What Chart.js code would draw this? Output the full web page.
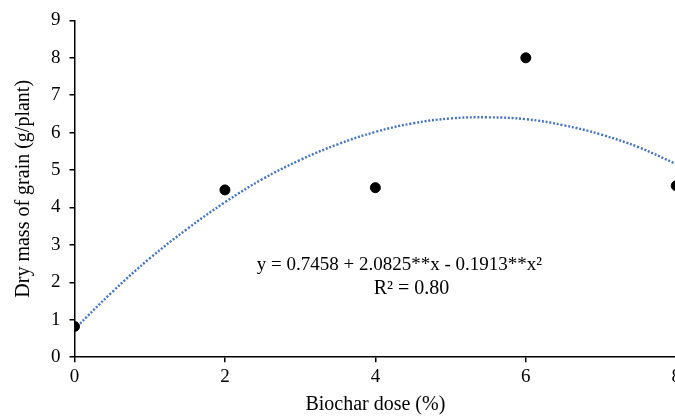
<!DOCTYPE html>
<html>
<head>
<meta charset="utf-8">
<script src="https://cdn.jsdelivr.net/npm/chart.js@4.4.1/dist/chart.umd.min.js"></script>
<style>
  html, body { margin: 0; padding: 0; background: #fff; overflow: hidden; }
  #wrap { width: 684px; height: 419px; }
</style>
</head>
<body>
<div id="wrap"><canvas id="chart"></canvas></div>
<script>
// observed points
const doses = [0, 2, 4, 6, 8];
const grainMass = [0.82, 4.47, 4.53, 8.0, 4.58];

// trend line
const trendX = [0, 0.5, 1, 1.5, 2, 2.5, 3, 3.5, 4, 4.5, 5, 5.5, 6, 6.5, 7, 7.5, 8];
const trendY = [0.75, 1.74, 2.64, 3.43, 4.14, 4.76, 5.27, 5.69, 6.02, 6.25, 6.38, 6.41, 6.36, 6.20, 5.95, 5.61, 5.16];

const xTicks = [0, 2, 4, 6, 8];
const yTicks = [0, 1, 2, 3, 4, 5, 6, 7, 8, 9];

const eqLines = ['y = 0.7458 + 2.0825**x - 0.1913**x\u00B2', 'R\u00B2 = 0.80'];

const FONT = "'Liberation Serif', 'Times New Roman', serif";

// equation text inside the plot
const eqPlugin = {
    id: 'eqText',
    afterDatasetsDraw: (chart) => {
        const ctx = chart.ctx;
        const x = chart.scales.x.getPixelForValue(4.32);
        const y = chart.scales.y.getPixelForValue(2.45);
        ctx.save();
        ctx.fillStyle = '#000';
        ctx.font = '19px ' + FONT;
        ctx.textAlign = 'center';
        ctx.textBaseline = 'middle';
        ctx.fillText(eqLines[0], x, y);
        ctx.font = '20px ' + FONT;
        ctx.fillText(eqLines[1], x + 12, y + 23);
        ctx.restore();
    }
};

const axisCommon = {
    type: 'linear',
    border: { display: true, color: '#000', width: 1.5 },
    grid: { drawOnChartArea: false, drawTicks: true, tickLength: 5, color: '#000', lineWidth: 1.5 },
};

new Chart(document.getElementById('chart'), {
    type: 'scatter',
    data: {
        datasets: [
            {
                label: 'Trend',
                type: 'line',
                data: trendX.map((x, i) => ({ x: x, y: trendY[i] })),
                borderColor: '#4472C4',
                borderWidth: 2.4,
                borderDash: [2, 1.8],
                pointRadius: 0,
                tension: 0.4,
                fill: false,
                order: 2
            },
            {
                label: 'Observed',
                data: doses.map((x, i) => ({ x: x, y: grainMass[i] })),
                backgroundColor: '#000',
                borderColor: '#000',
                pointRadius: 5,
                order: 1
            }
        ]
    },
    options: {
        responsive: true,
        maintainAspectRatio: false,
        animation: false,
        layout: { padding: { top: 19, left: 8, right: 0, bottom: 2 } },
        plugins: { legend: { display: false }, tooltip: { enabled: false } },
        scales: {
            x: {
                ...axisCommon,
                min: 0, max: 8,
                afterBuildTicks: s => { s.ticks = xTicks.map(v => ({ value: v })); },
                ticks: { color: '#000', font: { family: FONT, size: 19 }, padding: 3, maxRotation: 0 },
                title: { display: true, text: 'Biochar dose (%)', color: '#000', font: { family: FONT, size: 20 }, padding: { top: 2, bottom: 0 } }
            },
            y: {
                ...axisCommon,
                min: 0, max: 9,
                afterBuildTicks: s => { s.ticks = yTicks.map(v => ({ value: v })); },
                ticks: { color: '#000', font: { family: FONT, size: 19 }, padding: 9 },
                title: { display: true, text: 'Dry mass of grain (g/plant)', color: '#000', font: { family: FONT, size: 20 }, padding: { bottom: 6 } }
            }
        }
    },
    plugins: [eqPlugin]
});
</script>
</body>
</html>
